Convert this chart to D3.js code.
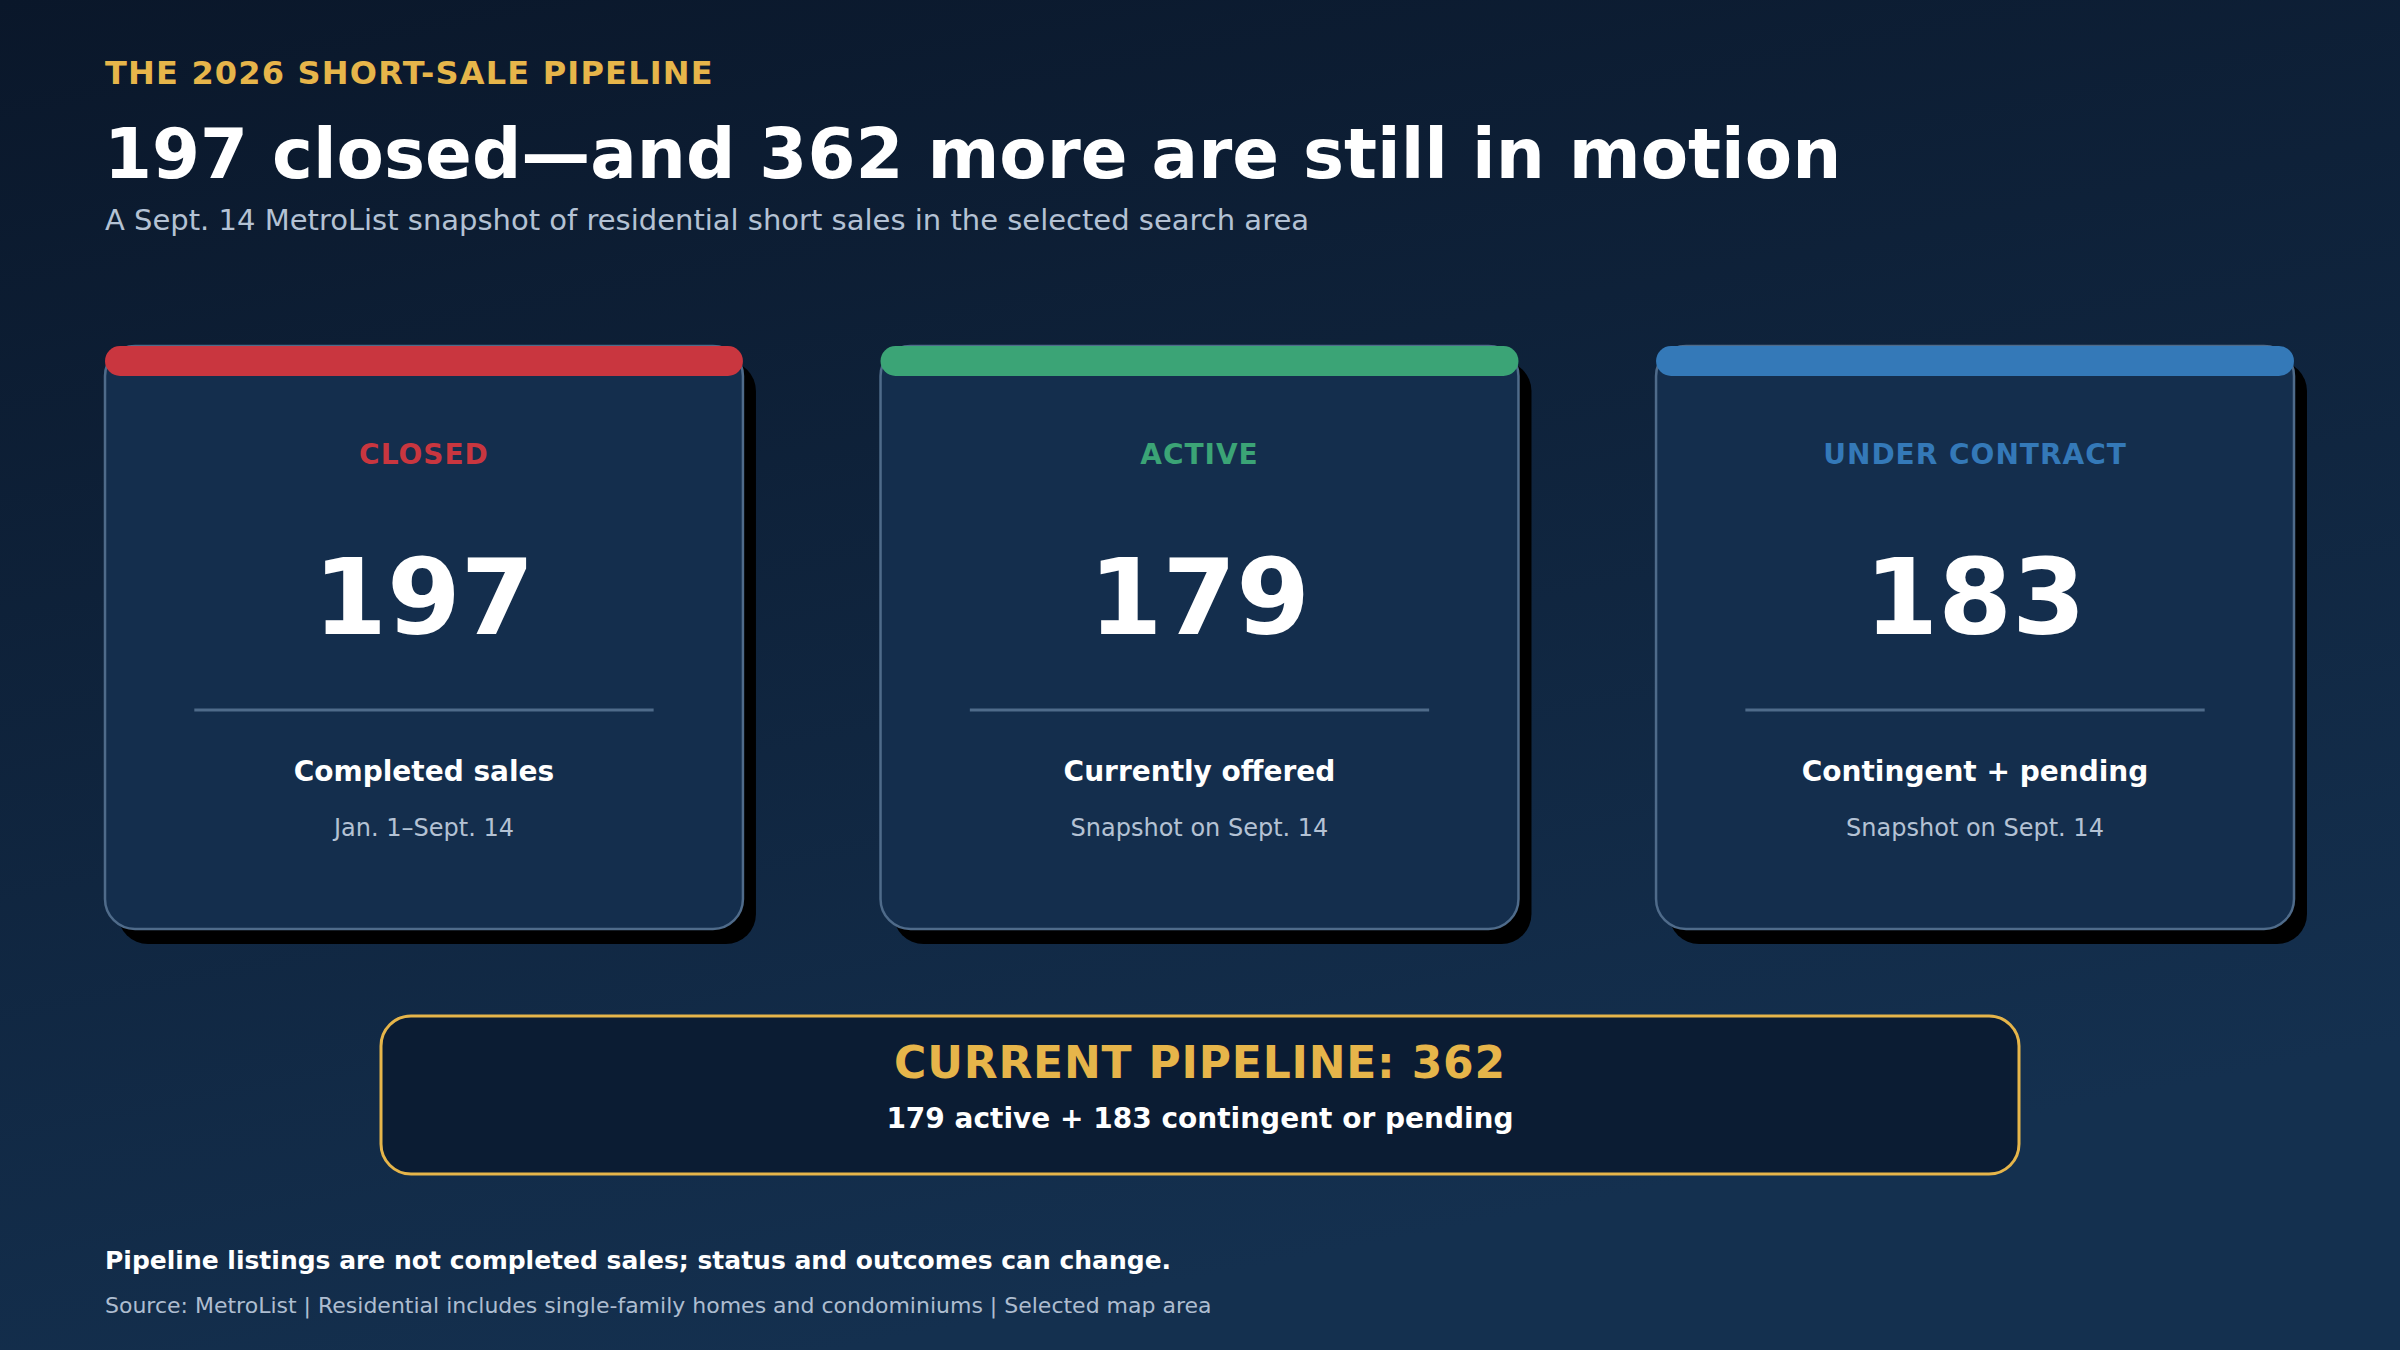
<!DOCTYPE html>
<html>
<head>
<meta charset="utf-8">
<script src="https://cdn.jsdelivr.net/npm/d3@7"></script>
<style>
html, body { margin: 0; padding: 0; background: #0b1a2e; }
svg { display: block; font-family: 'DejaVu Sans', 'Noto Sans', sans-serif; }
</style>
</head>
<body>
<script>
var statuses = ['CLOSED', 'ACTIVE', 'UNDER CONTRACT'];
var counts = [197, 179, 183];
var descriptions = ['Completed sales', 'Currently offered', 'Contingent + pending'];
var periods = ['Jan. 1\u2013Sept. 14', 'Snapshot on Sept. 14', 'Snapshot on Sept. 14'];
var accents = ['#c9363f', '#3ba476', '#3479b8'];

var W = 2400, H = 1350;
var closedCount = counts[0];
var pipelineCount = counts[1] + counts[2];

var svg = d3.select('body').append('svg').attr('width', W).attr('height', H);
var defs = svg.append('defs');

var bg = defs.append('linearGradient').attr('id', 'bg')
    .attr('x1', '0').attr('y1', '0').attr('x2', '0.35').attr('y2', '1');
bg.append('stop').attr('offset', '0%').attr('stop-color', '#0a172a');
bg.append('stop').attr('offset', '100%').attr('stop-color', '#14304f');
svg.append('rect').attr('width', W).attr('height', H).attr('fill', 'url(#bg)');

// header
svg.append('text').attr('x', 105).attr('y', 84)
    .attr('fill', '#e6b54a').attr('font-size', 32).attr('font-weight', 'bold')
    .attr('letter-spacing', 1.2)
    .text('THE 2026 SHORT-SALE PIPELINE');

svg.append('text').attr('x', 104).attr('y', 178)
    .attr('fill', '#ffffff').attr('font-size', 69).attr('font-weight', 'bold')
    .text(closedCount + ' closed\u2014and ' + pipelineCount + ' more are still in motion');

svg.append('text').attr('x', 105).attr('y', 230)
    .attr('fill', '#b4c2d4').attr('font-size', 29)
    .text('A Sept. 14 MetroList snapshot of residential short sales in the selected search area');

// cards
var x = d3.scaleBand().domain(statuses).range([105, 2294]).paddingInner(0.1774).paddingOuter(0);
var cardTop = 346, cardBottom = 929, bw = x.bandwidth();

var cards = statuses.map(function(s, i) {
    return { status: s, count: counts[i], desc: descriptions[i], period: periods[i], color: accents[i] };
});

var card = svg.selectAll('.card').data(cards).enter().append('g')
    .attr('class', 'card')
    .attr('transform', function(d) { return 'translate(' + x(d.status) + ',0)'; });

card.append('rect')
    .attr('x', 13).attr('y', cardTop + 15)
    .attr('width', bw).attr('height', cardBottom - cardTop)
    .attr('rx', 30).attr('fill', '#000000');

card.append('rect')
    .attr('x', 0).attr('y', cardTop)
    .attr('width', bw).attr('height', cardBottom - cardTop)
    .attr('rx', 30).attr('fill', '#142e4d')
    .attr('stroke', '#4f6b8a').attr('stroke-width', 2.5);

card.append('rect')
    .attr('x', 0).attr('y', cardTop)
    .attr('width', bw).attr('height', 30)
    .attr('rx', 15).attr('fill', function(d) { return d.color; });

card.append('text').attr('x', bw / 2).attr('y', 464)
    .attr('text-anchor', 'middle').attr('font-size', 28).attr('font-weight', 'bold')
    .attr('letter-spacing', 1)
    .attr('fill', function(d) { return d.color; })
    .text(function(d) { return d.status; });

card.append('text').attr('x', bw / 2).attr('y', 634)
    .attr('text-anchor', 'middle').attr('font-size', 106).attr('font-weight', 'bold')
    .attr('fill', '#ffffff')
    .text(function(d) { return d3.format('d')(d.count); });

card.append('line')
    .attr('x1', bw * 0.14).attr('x2', bw * 0.86)
    .attr('y1', 710).attr('y2', 710)
    .attr('stroke', '#4f6b8a').attr('stroke-width', 3);

card.append('text').attr('x', bw / 2).attr('y', 781)
    .attr('text-anchor', 'middle').attr('font-size', 28).attr('font-weight', 'bold')
    .attr('fill', '#ffffff')
    .text(function(d) { return d.desc; });

card.append('text').attr('x', bw / 2).attr('y', 836)
    .attr('text-anchor', 'middle').attr('font-size', 24)
    .attr('fill', '#b4c2d4')
    .text(function(d) { return d.period; });

// pipeline summary box
svg.append('rect')
    .attr('x', 381).attr('y', 1016).attr('width', 1638).attr('height', 158)
    .attr('rx', 30).attr('fill', '#0b1c33')
    .attr('stroke', '#e6b54a').attr('stroke-width', 3);

svg.append('text').attr('x', 1200).attr('y', 1078)
    .attr('text-anchor', 'middle').attr('font-size', 44).attr('font-weight', 'bold')
    .attr('letter-spacing', 0.8)
    .attr('fill', '#e6b54a')
    .text('CURRENT PIPELINE: ' + pipelineCount);

svg.append('text').attr('x', 1200).attr('y', 1128)
    .attr('text-anchor', 'middle').attr('font-size', 28).attr('font-weight', 'bold')
    .attr('fill', '#ffffff')
    .text(counts[1] + ' active + ' + counts[2] + ' contingent or pending');

// footer
svg.append('text').attr('x', 105).attr('y', 1269)
    .attr('font-size', 25).attr('font-weight', 'bold').attr('fill', '#ffffff')
    .text('Pipeline listings are not completed sales; status and outcomes can change.');

svg.append('text').attr('x', 105).attr('y', 1313)
    .attr('font-size', 22).attr('fill', '#aebdd0')
    .text('Source: MetroList | Residential includes single-family homes and condominiums | Selected map area');
</script>
</body>
</html>
